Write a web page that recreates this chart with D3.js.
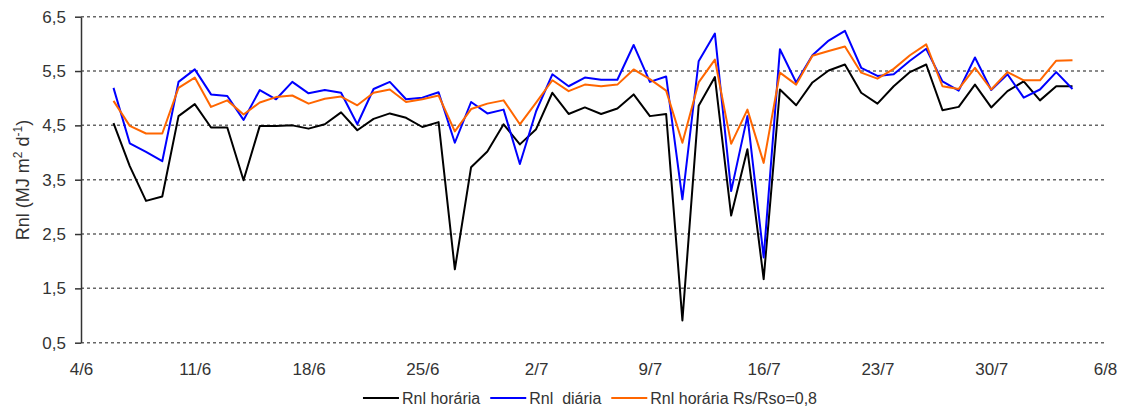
<!DOCTYPE html>
<html>
<head>
<meta charset="utf-8">
<title>Rnl</title>
<script src="https://d3js.org/d3.v7.min.js"></script>
<style>
  body { margin: 0; background: #fff; }
  svg { display: block; font-family: Arial, "Liberation Sans", sans-serif; }
  .axis text { fill: #333; font-size: 17px; }
  .grid line { stroke: #666; stroke-width: 1.5; stroke-dasharray: 3,3; }
  .serie { fill: none; stroke-width: 2; stroke-linejoin: round; }
</style>
</head>
<body>
<div id="chart"></div>
<script>
// dias (d/m), 6/6 a 4/8
var dias = ["6/6","7/6","8/6","9/6","10/6","11/6","12/6","13/6","14/6","15/6",
  "16/6","17/6","18/6","19/6","20/6","21/6","22/6","23/6","24/6","25/6",
  "26/6","27/6","28/6","29/6","30/6","1/7","2/7","3/7","4/7","5/7",
  "6/7","7/7","8/7","9/7","10/7","11/7","12/7","13/7","14/7","15/7",
  "16/7","17/7","18/7","19/7","20/7","21/7","22/7","23/7","24/7","25/7",
  "26/7","27/7","28/7","29/7","30/7","31/7","1/8","2/8","3/8","4/8"];

var rnlHoraria = [4.54,3.75,3.11,3.19,4.67,4.89,4.46,4.46,3.49,4.49,
  4.49,4.50,4.44,4.52,4.74,4.41,4.62,4.72,4.64,4.47,
  4.56,1.85,3.73,4.02,4.52,4.15,4.43,5.10,4.71,4.83,
  4.71,4.81,5.07,4.67,4.71,0.91,4.86,5.39,2.84,4.06,
  1.67,5.16,4.87,5.29,5.51,5.62,5.10,4.90,5.22,5.48,
  5.62,4.78,4.84,5.25,4.83,5.13,5.31,4.96,5.22,5.22];

var rnlDiaria = [5.19,4.17,4.01,3.84,5.30,5.53,5.07,5.04,4.60,5.15,
  4.98,5.30,5.09,5.15,5.10,4.52,5.17,5.30,4.98,5.01,
  5.11,4.18,4.93,4.72,4.79,3.79,4.76,5.44,5.22,5.38,
  5.34,5.34,5.98,5.30,5.40,3.14,5.68,6.19,3.29,4.67,
  2.07,5.90,5.29,5.79,6.06,6.24,5.56,5.41,5.44,5.69,
  5.91,5.31,5.14,5.75,5.15,5.44,5.01,5.16,5.48,5.17];

var rnlRs08 = [4.95,4.49,4.35,4.35,5.19,5.38,4.84,4.96,4.70,4.92,
  5.02,5.05,4.90,4.99,5.03,4.87,5.10,5.16,4.93,4.98,
  5.05,4.39,4.80,4.90,4.96,4.52,4.92,5.33,5.13,5.25,
  5.22,5.25,5.53,5.35,5.14,4.18,5.29,5.71,4.16,4.79,
  3.81,5.47,5.25,5.78,5.87,5.95,5.47,5.36,5.54,5.79,
  5.99,5.22,5.17,5.56,5.16,5.48,5.33,5.33,5.69,5.70];

var xTicks = ["4/6","11/6","18/6","25/6","2/7","9/7","16/7","23/7","30/7","6/8"];
var yTicks = [0.5, 1.5, 2.5, 3.5, 4.5, 5.5, 6.5];

var series = [
  {nome: "Rnl horária", valores: rnlHoraria, cor: "#000000"},
  {nome: "Rnl  diária", valores: rnlDiaria, cor: "#0000ff"},
  {nome: "Rnl horária Rs/Rso=0,8", valores: rnlRs08, cor: "#ff6600"}
];

var width = 1129, height = 414;
var parse = d3.timeParse("%d/%m");
var fmt = d3.timeFormat("%-d/%-m");

var x = d3.scaleTime()
  .domain([parse("4/6"), parse("6/8")])
  .range([81, 1105]);
var y = d3.scaleLinear()
  .domain([0.5, 6.5])
  .range([342.7, 16.7]);

var svg = d3.select("#chart").append("svg")
  .attr("width", width)
  .attr("height", height);

// linhas de grade
svg.append("g").attr("class", "grid")
  .selectAll("line")
  .data(yTicks)
  .enter().append("line")
    .attr("x1", x.range()[0])
    .attr("x2", x.range()[1])
    .attr("y1", function(d) { return y(d); })
    .attr("y2", function(d) { return y(d); });

// eixo y
var yAxis = svg.append("g").attr("class", "axis")
  .attr("transform", "translate(81,0)")
  .call(d3.axisLeft(y)
    .tickValues(yTicks)
    .tickSize(6)
    .tickSizeOuter(0)
    .tickPadding(9)
    .tickFormat(function(d) { return d.toFixed(1).replace(".", ","); }));
yAxis.selectAll("path, line").attr("stroke", "#333").attr("stroke-width", 1.5);

// eixo x (sem linha)
var xAxis = svg.append("g").attr("class", "axis")
  .attr("transform", "translate(0," + y(0.5) + ")")
  .call(d3.axisBottom(x)
    .tickValues(xTicks.map(parse))
    .tickSize(0)
    .tickPadding(20)
    .tickFormat(fmt));
xAxis.select(".domain").remove();

// título do eixo y
var yt = svg.append("text")
  .attr("transform", "translate(29,180) rotate(-90)")
  .attr("text-anchor", "middle")
  .style("font-size", "18px")
  .style("fill", "#333");
yt.append("tspan").text("Rnl (MJ m");
yt.append("tspan").attr("dy", -7).style("font-size", "12px").text("2");
yt.append("tspan").attr("dy", 7).text(" d");
yt.append("tspan").attr("dy", -7).style("font-size", "12px").text("-1");
yt.append("tspan").attr("dy", 7).text(")");

// séries
var linha = d3.line()
  .x(function(d) { return x(d.data); })
  .y(function(d) { return y(d.v); });

series.forEach(function(s) {
  var pts = dias.map(function(d, i) { return {data: parse(d), v: s.valores[i]}; });
  svg.append("path")
    .attr("class", "serie")
    .attr("stroke", s.cor)
    .attr("d", linha(pts));
});

// legenda
var leg = svg.append("g").attr("class", "legenda");
var pos = 0;
series.forEach(function(s) {
  var g = leg.append("g").attr("transform", "translate(" + pos + ",0)");
  g.append("line")
    .attr("x1", 0).attr("x2", 36)
    .attr("y1", 0).attr("y2", 0)
    .attr("stroke", s.cor).attr("stroke-width", 2);
  var t = g.append("text")
    .attr("x", 39).attr("y", 6)
    .style("font-size", "16px")
    .style("fill", "#333")
    .style("white-space", "pre")
    .attr("xml:space", "preserve")
    .text(s.nome);
  pos += 39 + t.node().getComputedTextLength() + 10;
});
pos -= 10;
leg.attr("transform", "translate(" + (590 - pos / 2) + ",398)");
</script>
</body>
</html>
